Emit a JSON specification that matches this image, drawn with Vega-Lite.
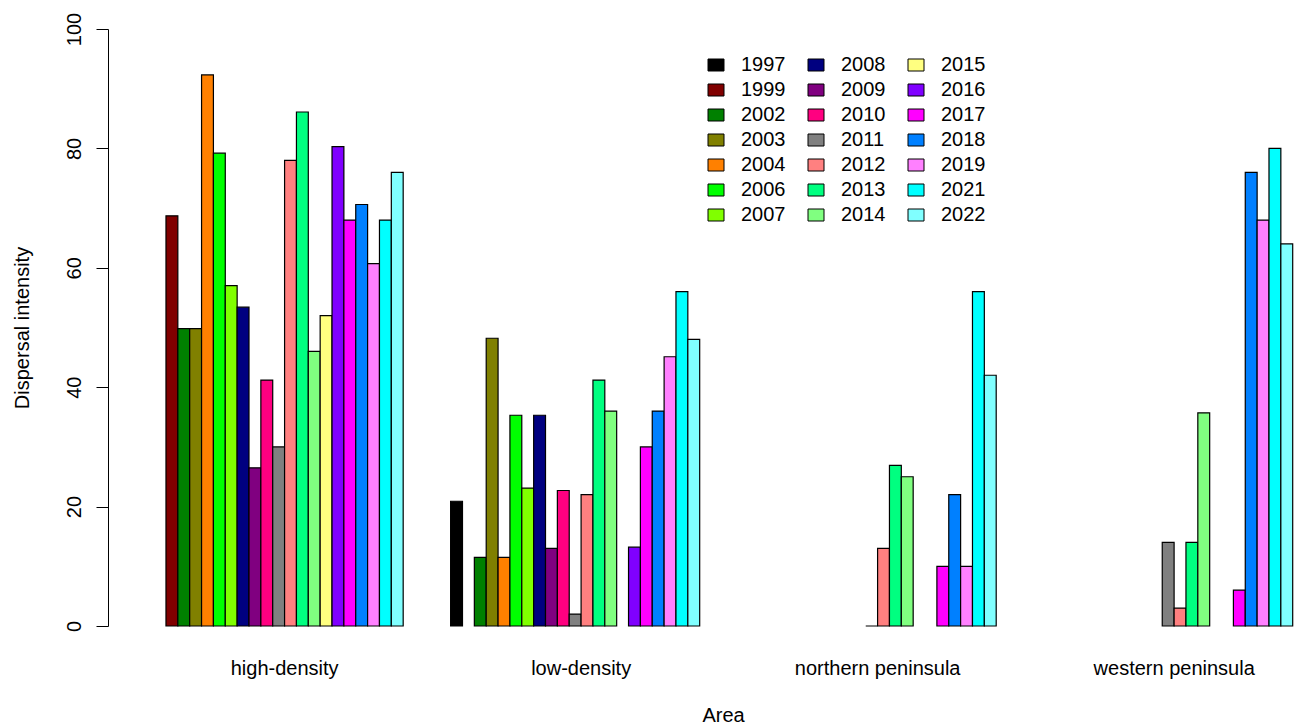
{
  "$schema": "https://vega.github.io/schema/vega-lite/v6.json",
  "width": 1190,
  "height": 597,
  "autosize": {"type": "none"},
  "padding": {"left": 108, "top": 29, "right": 0, "bottom": 101},
  "background": "white",
  "config": {"view": {"stroke": null}, "font": "Liberation Sans"},
  "data": {
    "values": [
      {"area": "high-density", "year": "1999", "value": 68.7},
      {"area": "high-density", "year": "2002", "value": 49.8},
      {"area": "high-density", "year": "2003", "value": 49.8},
      {"area": "high-density", "year": "2004", "value": 92.3},
      {"area": "high-density", "year": "2006", "value": 79.2},
      {"area": "high-density", "year": "2007", "value": 57.0},
      {"area": "high-density", "year": "2008", "value": 53.4},
      {"area": "high-density", "year": "2009", "value": 26.5},
      {"area": "high-density", "year": "2010", "value": 41.2},
      {"area": "high-density", "year": "2011", "value": 30.0},
      {"area": "high-density", "year": "2012", "value": 78.0},
      {"area": "high-density", "year": "2013", "value": 86.1},
      {"area": "high-density", "year": "2014", "value": 46.0},
      {"area": "high-density", "year": "2015", "value": 52.0},
      {"area": "high-density", "year": "2016", "value": 80.3},
      {"area": "high-density", "year": "2017", "value": 68.0},
      {"area": "high-density", "year": "2018", "value": 70.6},
      {"area": "high-density", "year": "2019", "value": 60.7},
      {"area": "high-density", "year": "2021", "value": 68.0},
      {"area": "high-density", "year": "2022", "value": 76.0},
      {"area": "low-density", "year": "1997", "value": 20.9},
      {"area": "low-density", "year": "2002", "value": 11.5},
      {"area": "low-density", "year": "2003", "value": 48.2},
      {"area": "low-density", "year": "2004", "value": 11.5},
      {"area": "low-density", "year": "2006", "value": 35.3},
      {"area": "low-density", "year": "2007", "value": 23.1},
      {"area": "low-density", "year": "2008", "value": 35.3},
      {"area": "low-density", "year": "2009", "value": 13.0},
      {"area": "low-density", "year": "2010", "value": 22.7},
      {"area": "low-density", "year": "2011", "value": 2.0},
      {"area": "low-density", "year": "2012", "value": 22.0},
      {"area": "low-density", "year": "2013", "value": 41.2},
      {"area": "low-density", "year": "2014", "value": 36.0},
      {"area": "low-density", "year": "2016", "value": 13.2},
      {"area": "low-density", "year": "2017", "value": 30.0},
      {"area": "low-density", "year": "2018", "value": 36.0},
      {"area": "low-density", "year": "2019", "value": 45.1},
      {"area": "low-density", "year": "2021", "value": 56.0},
      {"area": "low-density", "year": "2022", "value": 48.0},
      {"area": "northern peninsula", "year": "2011", "value": 0},
      {"area": "northern peninsula", "year": "2012", "value": 13.0},
      {"area": "northern peninsula", "year": "2013", "value": 26.9},
      {"area": "northern peninsula", "year": "2014", "value": 25.0},
      {"area": "northern peninsula", "year": "2017", "value": 10.0},
      {"area": "northern peninsula", "year": "2018", "value": 22.0},
      {"area": "northern peninsula", "year": "2019", "value": 10.0},
      {"area": "northern peninsula", "year": "2021", "value": 56.0},
      {"area": "northern peninsula", "year": "2022", "value": 42.0},
      {"area": "western peninsula", "year": "2011", "value": 14.0},
      {"area": "western peninsula", "year": "2012", "value": 3.0},
      {"area": "western peninsula", "year": "2013", "value": 14.0},
      {"area": "western peninsula", "year": "2014", "value": 35.7},
      {"area": "western peninsula", "year": "2017", "value": 6.0},
      {"area": "western peninsula", "year": "2018", "value": 76.0},
      {"area": "western peninsula", "year": "2019", "value": 68.0},
      {"area": "western peninsula", "year": "2021", "value": 80.0},
      {"area": "western peninsula", "year": "2022", "value": 64.0}
    ]
  },
  "mark": {"type": "bar", "stroke": "black", "strokeWidth": 1.2},
  "encoding": {
    "x": {
      "field": "area",
      "type": "nominal",
      "title": "Area",
      "scale": {
        "domain": ["high-density", "low-density", "northern peninsula", "western peninsula"],
        "paddingInner": 0.16,
        "paddingOuter": 0.0867,
        "align": 0.897
      },
      "axis": {
        "domain": false,
        "ticks": false,
        "tickSize": 0,
        "labelFontSize": 20,
        "labelColor": "black",
        "labelAngle": 0,
        "labelAlign": "center",
        "labelBaseline": "alphabetic",
        "labelPadding": 48,
        "labelOffset": 6,
        "labelOverlap": false,
        "titleFontSize": 20,
        "titleFontWeight": "normal",
        "titleColor": "black",
        "titleX": 615,
        "titleY": 95,
        "titleAlign": "center",
        "titleBaseline": "alphabetic"
      }
    },
    "xOffset": {
      "field": "year",
      "type": "nominal",
      "scale": {
        "domain": ["1997", "1999", "2002", "2003", "2004", "2006", "2007", "2008", "2009", "2010", "2011", "2012", "2013", "2014", "2015", "2016", "2017", "2018", "2019", "2021", "2022"],
        "paddingInner": 0,
        "paddingOuter": 0
      }
    },
    "y": {
      "field": "value",
      "type": "quantitative",
      "title": "Dispersal intensity",
      "scale": {"domain": [0, 100], "nice": false},
      "axis": {
        "values": [0, 20, 40, 60, 80, 100],
        "grid": false,
        "tickSize": 12,
        "tickColor": "black",
        "tickWidth": 1,
        "domainColor": "black",
        "domainWidth": 1,
        "labelFontSize": 20,
        "labelColor": "black",
        "labelAngle": -90,
        "labelAlign": "center",
        "labelBaseline": "alphabetic",
        "labelPadding": 16,
        "labelFlush": false,
        "labelOverlap": false,
        "titleFontSize": 20,
        "titleFontWeight": "normal",
        "titleColor": "black",
        "titleAngle": -90,
        "titleAlign": "center",
        "titleBaseline": "alphabetic",
        "titleX": -80,
        "titleY": 298.5
      }
    },
    "color": {
      "field": "year",
      "type": "nominal",
      "scale": {
        "domain": ["1997", "1999", "2002", "2003", "2004", "2006", "2007", "2008", "2009", "2010", "2011", "2012", "2013", "2014", "2015", "2016", "2017", "2018", "2019", "2021", "2022"],
        "range": ["#000000", "#800000", "#008000", "#808000", "#FF8000", "#00FF00", "#80FF00", "#000080", "#800080", "#FF0080", "#808080", "#FF8080", "#00FF80", "#80FF80", "#FFFF80", "#8000FF", "#FF00FF", "#0080FF", "#FF80FF", "#00FFFF", "#80FFFF"]
      },
      "legend": {
        "title": null,
        "orient": "none",
        "legendX": 598,
        "legendY": 26,
        "columns": 3,
        "padding": 0,
        "symbolType": "M-1,-0.75H1V0.75H-1Z",
        "symbolSize": 256,
        "symbolStrokeColor": "black",
        "symbolStrokeWidth": 1,
        "symbolOpacity": 1,
        "labelFontSize": 20,
        "labelColor": "black",
        "labelOffset": 15,
        "columnPadding": 20,
        "rowPadding": 5
      }
    }
  }
}
